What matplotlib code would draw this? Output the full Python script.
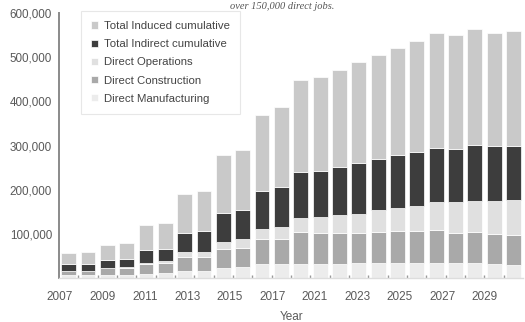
import matplotlib
matplotlib.use("Agg")
import matplotlib.pyplot as plt
import numpy as np

plt.rcParams['font.family'] = ['Liberation Sans', 'DejaVu Sans']

# one bar per year (values in thousands of jobs)
years = list(range(2007, 2031))
direct_manufacturing = [7, 7, 7, 7, 10, 11, 16, 16, 23, 26, 31, 31,
                        32, 32, 32, 33, 33, 33, 34, 35, 35, 33, 32, 29]
direct_construction = [8, 8, 15, 16, 21, 23, 32, 32, 42, 42, 57, 58,
                       72, 70, 70, 68, 72, 73, 72, 73, 66, 71, 67, 68]
direct_operations = [2, 2, 1, 2, 4, 4, 10, 11, 16, 20, 22, 27,
                     32, 36, 40, 45, 49, 53, 57, 63, 70, 70, 76, 79]
total_indirect = [15, 15, 17, 18, 28, 28, 43, 48, 67, 66, 88, 91,
                  104, 105, 110, 115, 116, 119, 122, 124, 122, 128, 123, 122]
total_induced = [25, 27, 35, 36, 58, 59, 89, 91, 130, 135, 172, 180,
                 209, 212, 219, 227, 234, 242, 251, 259, 257, 262, 257, 262]

tick_labels = ['2007', '2009', '2011', '2013', '2015', '2017',
               '2021', '2023', '2025', '2027', '2029']

series = [
    ('Direct Manufacturing', direct_manufacturing, '#ececec'),
    ('Direct Construction', direct_construction, '#a9a9a9'),
    ('Direct Operations', direct_operations, '#e0e0e0'),
    ('Total Indirect cumulative', total_indirect, '#3d3d3d'),
    ('Total Induced cumulative', total_induced, '#c9c9c9'),
]

fig = plt.figure(figsize=(5.25, 3.22), dpi=100)
ax = fig.add_axes([0.1124, 0.1366, 0.884, 0.823])

x = np.arange(len(years))
bottom = np.zeros(len(years))
handles = {}
for name, vals, col in series:
    v = np.array(vals) * 1000.0
    b = ax.bar(x, v, width=0.77, bottom=bottom, color=col,
               edgecolor='white', linewidth=0.5, label=name)
    handles[name] = b
    bottom += v

ax.set_xlim(-0.5, len(years) - 0.5)
ax.set_ylim(0, 600000)
ax.set_yticks(np.arange(100000, 600001, 100000))
ax.set_yticklabels([f'{int(t):,}' for t in ax.get_yticks()])
ax.tick_params(axis='y', length=0, pad=5, labelsize=8.4, labelcolor='#5a5a5a')

ax.set_xticks(np.linspace(-0.45, 21.52, len(tick_labels)))
ax.set_xticklabels(tick_labels)
ax.set_xticks(x[:-1] + 0.5, minor=True)
ax.tick_params(axis='x', which='major', length=0, pad=9, labelsize=8.5,
               labelcolor='#5a5a5a')
ax.tick_params(axis='x', which='minor', length=2, width=1, color='#999999',
               direction='in')
ax.set_xlabel('Year', fontsize=8.5, color='#5a5a5a', labelpad=6)

for s in ['top', 'right']:
    ax.spines[s].set_visible(False)
ax.spines['left'].set_color('#8a8a8a')
ax.spines['left'].set_linewidth(1.4)
ax.spines['bottom'].set_color('#dddddd')
ax.spines['bottom'].set_linewidth(1)

order = ['Total Induced cumulative', 'Total Indirect cumulative',
         'Direct Operations', 'Direct Construction', 'Direct Manufacturing']
leg = ax.legend([handles[n] for n in order], order, loc='upper left',
                bbox_to_anchor=(0.035, 1.03), fontsize=8.2, frameon=True,
                fancybox=False, handlelength=0.6, handleheight=0.6,
                handletextpad=0.5, labelspacing=0.72, borderpad=0.9,
                labelcolor='#444444')
leg.get_frame().set_edgecolor('#e2e2e2')
leg.get_frame().set_linewidth(0.8)

fig.text(0.537, 0.972, 'over 150,000 direct jobs.', ha='center', va='baseline',
         fontsize=7.5, style='italic', family='Liberation Serif', color='#555555')

fig.savefig('out.png', dpi=100)
